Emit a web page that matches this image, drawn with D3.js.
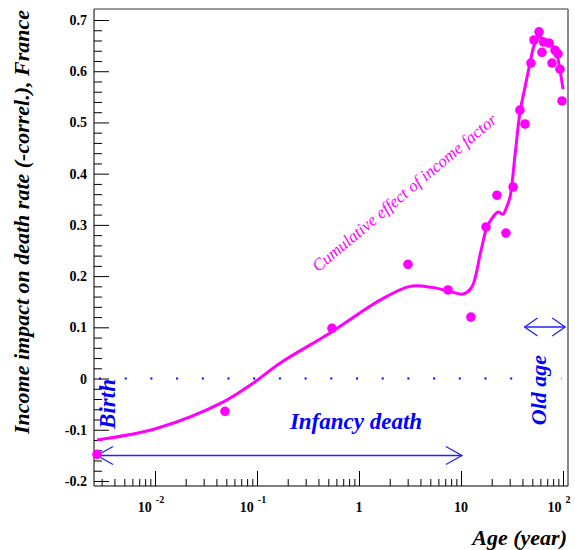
<!DOCTYPE html>
<html><head><meta charset="utf-8">
<script src="https://cdn.jsdelivr.net/npm/d3@7"></script>
<style>
body{margin:0;background:#fff;}
svg{display:block;}
</style></head>
<body>
<svg id="c" width="575" height="550"></svg>
<script>
// ---- data ----
const pointAges = [0.0027,0.0485,0.543,3.02,7.46,12.5,17.6,22.5,27.6,32.4,37.8,42.4,48.5,52,58.2,62.2,64.5,73,78,83.5,89.3,93.4,97.7];
const pointValues = [-0.148,-0.064,0.098,0.223,0.173,0.120,0.296,0.358,0.284,0.374,0.524,0.497,0.616,0.661,0.677,0.637,0.657,0.655,0.616,0.641,0.634,0.604,0.542];
const curveAges = [0.0027,0.0105,0.0464,0.09,0.168,0.52,1.61,3.16,5.2,7.46,10.5,12.8,15.5,18.0,20.5,23.1,25.8,28.0,30.2,34,37.8,42.5,47.5,52,58.2,63.7,74.6,85.4,93.4,100];
const curveValues = [-0.120,-0.097,-0.046,-0.010,0.030,0.089,0.153,0.180,0.178,0.171,0.165,0.179,0.245,0.296,0.315,0.325,0.321,0.335,0.354,0.44,0.519,0.57,0.616,0.650,0.667,0.663,0.655,0.638,0.602,0.565];
const yTickValues = [-0.2,-0.1,0,0.1,0.2,0.3,0.4,0.5,0.6,0.7];
const yTickLabels = ["-0.2","-0.1","0","0.1","0.2","0.3","0.4","0.5","0.6","0.7"];
const xTickValues = [0.01,0.1,1,10,100];
const xTickBase = ["10","10","1","10","10"];
const xTickExp = ["-2","-1","","","2"];
const yTitle = "Income impact on death rate (-correl.), France";
const xTitle = "Age (year)";
const curveLabel = "Cumulative effect of income factor";
const infancyRange = [0.0027, 10.2];
const oldAgeRange = [42, 105];

const FONT = "Liberation Serif";
const svg = d3.select("#c");
const L=94,R=568,T=9,B=486;
const x = d3.scaleLog().domain([0.002523,111.9]).range([L,R]);
const y = d3.scaleLinear().domain([-0.2098,0.7215]).range([B,T]);
const mag="#ff00ff", blue="#0000ff";

function txt(sel){return sel.append("text").attr("font-family",FONT);}

// frame
svg.append("line").attr("x1",L).attr("x2",R).attr("y1",T).attr("y2",T).attr("stroke","#333").attr("stroke-width",1.2);
svg.append("line").attr("x1",R).attr("x2",R).attr("y1",T).attr("y2",B).attr("stroke","#888").attr("stroke-width",2);

// minor x ticks
const minorX=[];
[0.001,0.01,0.1,1,10].forEach(d=>{for(let k=2;k<=9;k++){const v=d*k; if(v>0.002523&&v<111.9)minorX.push(v);}});
const axMinX = d3.axisBottom(x).tickValues(minorX).tickSizeInner(-7).tickSizeOuter(0).tickFormat("");
svg.append("g").attr("transform",`translate(0,${B})`).call(axMinX).call(g=>{g.select(".domain").remove();g.selectAll("line").attr("stroke","#000");});
const axMajX = d3.axisBottom(x).tickValues(xTickValues).tickSizeInner(-15).tickSizeOuter(0).tickFormat("");
svg.append("g").attr("transform",`translate(0,${B})`).call(axMajX).call(g=>{g.select(".domain").attr("stroke","#000").attr("d",`M${L},0H${R}`);g.selectAll("line").attr("stroke","#000");});

// x labels
xTickValues.forEach((v,i)=>{
  const t=txt(svg).attr("y",512).attr("font-weight","bold").attr("font-size",14).attr("text-anchor","middle");
  t.attr("x",x(v)+(xTickExp[i]?-4:0));
  t.append("tspan").text(xTickBase[i]);
  if(xTickExp[i]) t.append("tspan").attr("dx",4).attr("dy",-9).attr("font-size",10).text(xTickExp[i]);
});

// y ticks
const minorY=d3.range(-20,72,2).map(d=>d/100).filter(v=>Math.abs(Math.round(v*10)-v*10)>1e-6);
const axMinY=d3.axisLeft(y).tickValues(minorY).tickSizeInner(-8).tickSizeOuter(0).tickFormat("");
svg.append("g").attr("transform",`translate(${L},0)`).call(axMinY).call(g=>{g.select(".domain").remove();g.selectAll("line").attr("stroke","#000");});
const axMajY=d3.axisLeft(y).tickValues(yTickValues).tickSizeInner(-15).tickSizeOuter(0).tickFormat((d,i)=>yTickLabels[i]);
svg.append("g").attr("transform",`translate(${L},0)`).attr("font-family",FONT).attr("font-size",14).call(axMajY).call(g=>{
  g.attr("font-family",FONT).attr("font-size",14);
  g.select(".domain").attr("stroke","#000").attr("d",`M0,${T}V${B}`);
  g.selectAll("line").attr("stroke","#000");
  g.selectAll("text").attr("x",-7).attr("font-weight","bold").attr("fill","#000");
});

// titles
txt(svg).attr("transform",`translate(29,${222}) rotate(-90)`).attr("text-anchor","middle")
  .attr("font-weight","bold").attr("font-style","italic").attr("font-size",22).text(yTitle);
txt(svg).attr("x",567).attr("y",545).attr("text-anchor","end")
  .attr("font-weight","bold").attr("font-style","italic").attr("font-size",22).text(xTitle);

// dotted zero line
svg.append("line").attr("x1",99).attr("x2",562).attr("y1",y(0)).attr("y2",y(0))
  .attr("stroke",blue).attr("stroke-width",2).attr("stroke-dasharray","2,23.7");

// arrows
function dblArrow(x1,x2,yy,hl,hw){
  const g=svg.append("g").attr("stroke","#2222ff").attr("stroke-width",1.3).attr("fill","none");
  g.append("line").attr("x1",x1).attr("x2",x2).attr("y1",yy).attr("y2",yy);
  g.append("path").attr("d",`M${x1+hl},${yy-hw}L${x1},${yy}L${x1+hl},${yy+hw}`);
  g.append("path").attr("d",`M${x2-hl},${yy-hw}L${x2},${yy}L${x2-hl},${yy+hw}`);
}
dblArrow(x(infancyRange[0]),x(infancyRange[1]),455.5,16,9);
dblArrow(x(oldAgeRange[0]),x(oldAgeRange[1]),327,13,9);

// curve
const curveData=curveAges.map((a,i)=>[a,curveValues[i]]);
svg.append("path").datum(curveData)
  .attr("d",d3.line().x(d=>x(d[0])).y(d=>y(d[1])).curve(d3.curveCatmullRom.alpha(0.5)))
  .attr("fill","none").attr("stroke",mag).attr("stroke-width",3);

// points
svg.append("g").selectAll("circle").data(pointAges.map((a,i)=>[a,pointValues[i]])).join("circle")
  .attr("cx",d=>x(d[0])).attr("cy",d=>y(d[1])).attr("r",4.8).attr("fill",mag);

// annotations
txt(svg).attr("transform","translate(408,197) rotate(-40)").attr("text-anchor","middle")
  .attr("font-style","italic").attr("font-size",17).attr("fill",mag).text(curveLabel);
txt(svg).attr("x",356).attr("y",429).attr("text-anchor","middle")
  .attr("font-weight","bold").attr("font-style","italic").attr("font-size",23).attr("fill",blue).text("Infancy death");
txt(svg).attr("transform","translate(115,404) rotate(-90)").attr("text-anchor","middle")
  .attr("font-weight","bold").attr("font-style","italic").attr("font-size",23).attr("fill",blue).text("Birth");
txt(svg).attr("transform","translate(546,390) rotate(-90)").attr("text-anchor","middle")
  .attr("font-weight","bold").attr("font-style","italic").attr("font-size",22).attr("fill",blue).text("Old age");
</script>
</body></html>
